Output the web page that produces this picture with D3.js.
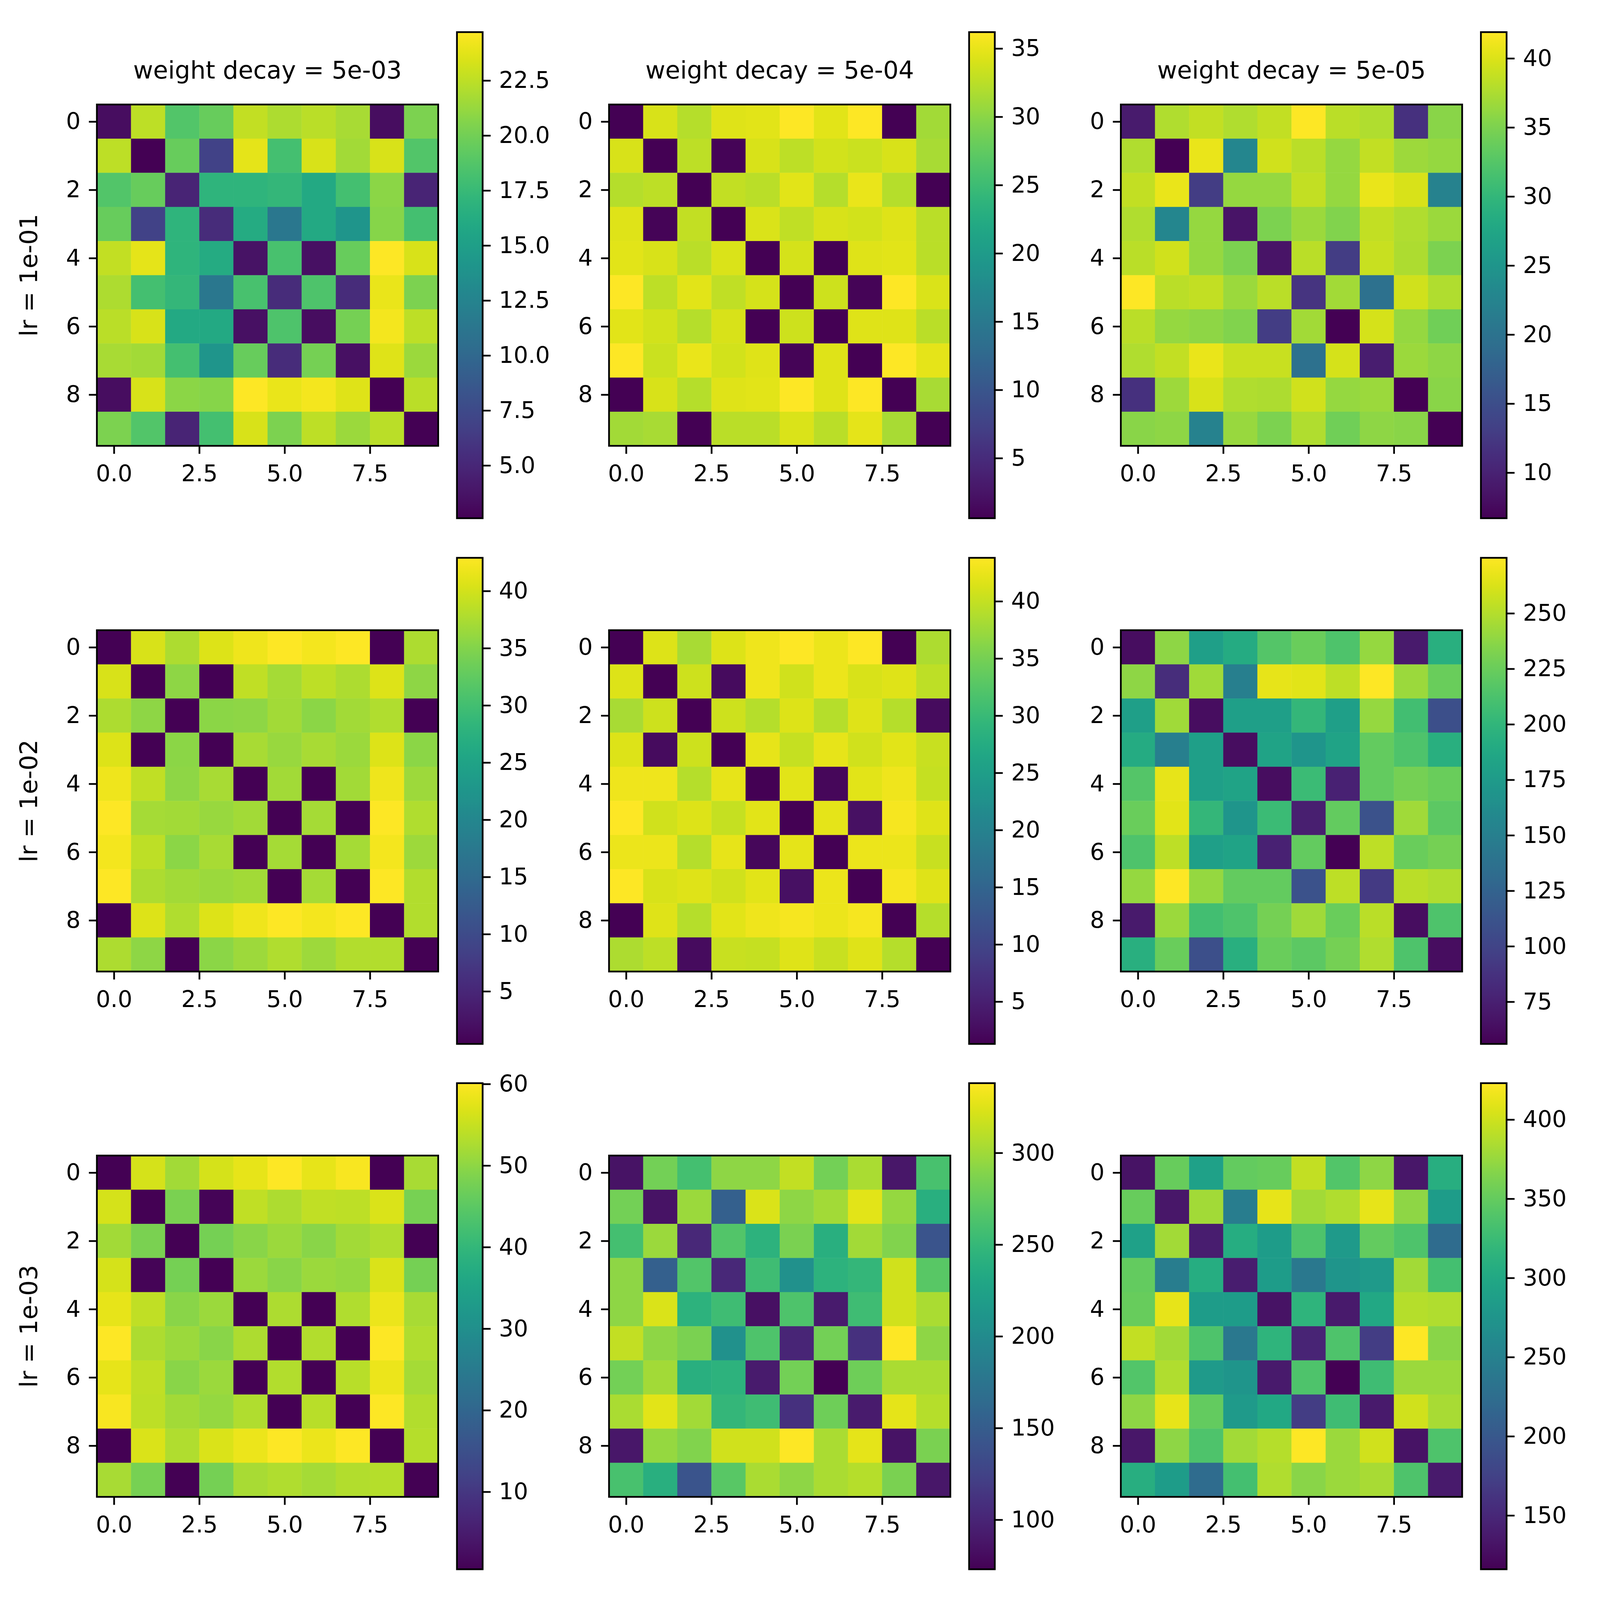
<!DOCTYPE html>
<html lang="en">
<head>
<meta charset="UTF-8">
<title>lr / weight decay distance matrices</title>
<script src="https://d3js.org/d3.v7.min.js"></script>
<style>
  html, body { margin: 0; padding: 0; background: #fff; overflow: hidden; }
  svg#grid { display: block; width: 100vw; height: 100vh; }
  text { font-family: "DejaVu Sans", sans-serif; fill: #000; }
  .axis line { stroke: #000; stroke-width: 5; }
  .axis text { font-size: 66px; font-family: "DejaVu Sans", sans-serif; fill: #000; }
  .axis .domain { display: none; }
</style>
</head>
<body>
<svg id="grid" viewBox="0 0 4608 4608" preserveAspectRatio="xMidYMid meet"></svg>
<script>
const lrLabels = ["lr = 1e-01", "lr = 1e-02", "lr = 1e-03"];
const wdLabels = ["weight decay = 5e-03", "weight decay = 5e-04", "weight decay = 5e-05"];
const xTicks = [0, 2.5, 5, 7.5];
const yTicks = [0, 2, 4, 6, 8];

// lr = 1e-01
const m11 = [
  [3.3, 22.5, 18.7, 19.6, 22.7, 22.0, 22.4, 21.8, 3.3, 20.3],
  [22.5, 2.6, 19.6, 7.0, 23.8, 18.1, 23.4, 21.6, 23.4, 18.7],
  [18.7, 19.6, 4.8, 17.0, 17.0, 17.2, 15.9, 18.1, 20.9, 4.8],
  [19.6, 7.0, 17.0, 5.3, 16.1, 11.4, 15.9, 14.1, 20.7, 18.1],
  [22.7, 23.8, 17.0, 16.1, 3.7, 18.3, 3.5, 19.6, 24.7, 23.4],
  [22.0, 18.1, 17.2, 11.4, 18.3, 5.3, 18.5, 5.3, 24.0, 20.3],
  [22.4, 23.4, 15.9, 15.9, 3.5, 18.5, 3.3, 20.1, 24.3, 22.5],
  [21.8, 21.6, 18.1, 14.1, 19.6, 5.3, 20.1, 3.5, 23.6, 21.4],
  [3.3, 23.4, 20.9, 20.7, 24.7, 24.0, 24.3, 23.6, 2.6, 22.4],
  [20.3, 18.7, 4.8, 18.1, 23.4, 20.3, 22.5, 21.4, 22.4, 2.6]
];
const m12 = [
  [0.6, 34.1, 32.3, 34.4, 34.6, 36.2, 34.6, 36.2, 0.6, 31.2],
  [34.1, 0.6, 32.6, 1.0, 34.1, 32.6, 33.7, 33.4, 34.1, 31.6],
  [32.3, 32.6, 0.6, 33.0, 32.5, 34.6, 32.3, 35.0, 32.3, 0.6],
  [34.4, 1.0, 33.0, 0.6, 34.2, 32.8, 34.1, 33.7, 34.4, 32.5],
  [34.6, 34.1, 32.5, 34.2, 0.6, 33.9, 0.6, 34.4, 34.6, 32.5],
  [36.2, 32.6, 34.6, 32.8, 33.9, 0.6, 33.5, 1.0, 36.2, 34.2],
  [34.6, 33.7, 32.3, 34.1, 0.6, 33.5, 0.6, 34.4, 34.4, 32.5],
  [36.2, 33.4, 35.0, 33.7, 34.4, 1.0, 34.4, 0.6, 36.2, 34.8],
  [0.6, 34.1, 32.3, 34.4, 34.6, 36.2, 34.4, 36.2, 0.6, 31.6],
  [31.2, 31.6, 0.6, 32.5, 32.5, 34.2, 32.5, 34.8, 31.6, 0.6]
];
const m13 = [
  [9.2, 37.7, 38.7, 37.7, 38.6, 41.9, 38.2, 37.7, 11.6, 35.6],
  [37.7, 6.7, 40.7, 22.9, 39.3, 38.2, 36.3, 38.6, 36.8, 36.3],
  [38.7, 40.7, 13.0, 36.3, 36.3, 38.7, 36.3, 40.7, 39.8, 22.2],
  [37.7, 22.9, 36.3, 8.5, 34.9, 36.6, 35.2, 38.7, 37.7, 36.6],
  [38.2, 39.3, 36.3, 34.9, 8.5, 38.2, 13.0, 38.9, 37.5, 34.9],
  [41.9, 38.2, 38.7, 36.6, 38.2, 12.0, 37.0, 19.7, 39.3, 37.7],
  [38.2, 36.3, 35.9, 35.2, 13.0, 37.0, 6.7, 39.6, 36.3, 34.2],
  [37.7, 38.6, 40.7, 38.9, 38.9, 19.7, 39.6, 9.5, 36.6, 35.9],
  [11.6, 36.8, 39.8, 37.7, 37.5, 39.3, 36.3, 36.6, 6.7, 35.6],
  [35.6, 35.9, 22.2, 36.4, 34.9, 37.7, 34.2, 35.9, 35.6, 6.7]
];

// lr = 1e-02
const m21 = [
  [0.4, 40.4, 37.6, 40.6, 41.8, 42.9, 42.1, 42.9, 0.4, 37.6],
  [40.4, 0.4, 35.7, 0.4, 38.9, 37.2, 38.7, 37.6, 40.6, 35.7],
  [37.6, 35.7, 0.4, 35.5, 35.7, 37.0, 35.5, 37.0, 37.8, 0.4],
  [40.6, 0.4, 35.5, 0.4, 37.4, 36.3, 37.4, 36.5, 40.6, 35.5],
  [41.8, 38.9, 35.7, 37.4, 0.4, 37.0, 0.4, 37.0, 41.8, 36.7],
  [42.9, 37.2, 37.0, 36.3, 37.0, 0.4, 37.2, 0.4, 42.9, 37.8],
  [42.1, 38.7, 35.5, 37.4, 0.4, 37.2, 0.4, 37.2, 42.1, 36.7],
  [42.9, 37.6, 37.0, 36.5, 37.0, 0.4, 37.2, 0.4, 42.9, 38.0],
  [0.4, 40.6, 37.8, 40.6, 41.8, 42.9, 42.1, 42.9, 0.4, 38.0],
  [37.6, 35.7, 0.4, 35.5, 36.7, 37.8, 36.7, 38.0, 38.0, 0.4]
];
const m22 = [
  [1.3, 41.5, 38.3, 41.5, 42.7, 43.8, 42.5, 43.8, 1.3, 38.5],
  [41.5, 1.3, 40.6, 2.6, 42.7, 40.8, 42.5, 41.3, 41.7, 39.6],
  [38.3, 40.6, 1.3, 40.6, 39.1, 41.5, 39.1, 41.7, 39.1, 2.6],
  [41.5, 2.6, 40.6, 1.3, 42.3, 40.0, 42.3, 40.8, 41.9, 40.2],
  [42.7, 42.7, 39.1, 42.3, 1.3, 41.9, 2.1, 41.9, 42.7, 40.0],
  [43.8, 40.8, 41.5, 40.0, 41.9, 1.3, 42.1, 3.0, 43.2, 41.7],
  [42.5, 42.5, 39.1, 42.3, 2.1, 42.1, 1.3, 42.5, 42.5, 40.2],
  [43.8, 41.3, 41.7, 40.8, 41.9, 3.0, 42.5, 1.3, 43.2, 41.7],
  [1.3, 41.7, 39.1, 41.9, 42.7, 43.2, 42.5, 43.2, 1.3, 39.1],
  [38.5, 39.6, 2.6, 40.2, 40.0, 41.7, 40.2, 41.7, 39.1, 1.3]
];
const m23 = [
  [63, 238, 179, 190, 216, 225, 214, 240, 71, 194],
  [238, 84, 244, 150, 267, 265, 253, 275, 242, 225],
  [179, 244, 63, 179, 179, 201, 179, 240, 209, 109],
  [190, 150, 179, 63, 183, 170, 183, 222, 214, 194],
  [216, 267, 179, 183, 63, 205, 76, 222, 229, 225],
  [225, 265, 201, 170, 205, 74, 222, 111, 244, 220],
  [214, 253, 179, 183, 76, 222, 56, 253, 225, 229],
  [240, 275, 240, 222, 222, 111, 253, 93, 252, 249],
  [71, 242, 209, 214, 229, 244, 225, 252, 63, 214],
  [194, 225, 109, 194, 225, 220, 229, 249, 214, 63]
];

// lr = 1e-03
const m31 = [
  [0.5, 56.2, 51.8, 56.2, 58.0, 60.1, 58.0, 59.5, 0.5, 52.4],
  [56.2, 0.5, 48.2, 1.1, 54.4, 52.7, 54.4, 54.1, 56.8, 47.9],
  [51.8, 48.2, 0.5, 47.6, 49.4, 51.2, 49.4, 51.8, 53.0, 0.5],
  [56.2, 1.1, 47.6, 0.5, 51.2, 49.4, 51.2, 50.6, 56.8, 47.6],
  [58.0, 54.4, 49.4, 51.2, 0.5, 52.7, 0.5, 53.0, 58.3, 52.4],
  [60.1, 52.7, 51.2, 49.4, 52.7, 0.5, 53.2, 0.5, 60.1, 53.0],
  [58.0, 54.4, 49.4, 51.2, 0.5, 53.2, 0.5, 53.8, 58.3, 52.1],
  [59.5, 54.1, 51.8, 50.6, 53.0, 0.5, 53.8, 0.5, 60.1, 53.2],
  [0.5, 56.8, 53.0, 56.8, 58.3, 60.1, 58.3, 60.1, 0.5, 53.5],
  [52.4, 47.9, 0.5, 47.6, 52.4, 53.0, 52.1, 53.2, 53.5, 0.5]
];
const m32 = [
  [86, 282, 259, 293, 293, 314, 282, 304, 89, 261],
  [282, 86, 298, 153, 323, 293, 301, 326, 296, 240],
  [259, 298, 102, 266, 243, 285, 240, 301, 288, 142],
  [293, 153, 266, 102, 256, 206, 243, 248, 319, 269],
  [293, 323, 243, 256, 84, 264, 92, 256, 319, 304],
  [314, 293, 285, 206, 264, 100, 282, 110, 338, 293],
  [282, 301, 240, 243, 92, 282, 73, 280, 304, 304],
  [304, 326, 301, 248, 256, 110, 280, 92, 327, 309],
  [89, 296, 288, 319, 319, 338, 304, 327, 86, 285],
  [261, 240, 142, 269, 304, 293, 304, 309, 285, 89]
];
const m33 = [
  [131, 352, 291, 349, 352, 395, 340, 371, 134, 309],
  [352, 134, 380, 245, 412, 380, 386, 412, 371, 285],
  [291, 380, 141, 306, 285, 337, 282, 349, 337, 223],
  [349, 245, 306, 141, 285, 239, 276, 282, 380, 331],
  [352, 412, 285, 285, 131, 316, 137, 300, 389, 386],
  [395, 380, 337, 239, 316, 147, 337, 171, 423, 368],
  [340, 386, 282, 276, 137, 337, 116, 328, 377, 377],
  [371, 412, 349, 282, 300, 171, 328, 137, 401, 383],
  [134, 371, 337, 380, 389, 423, 377, 401, 131, 337],
  [309, 285, 223, 331, 386, 368, 377, 383, 337, 137]
];

const matrices = [[m11, m12, m13], [m21, m22, m23], [m31, m32, m33]];

// colorbar tick labels per panel
const cbTicks = [
  [[5, 7.5, 10, 12.5, 15, 17.5, 20, 22.5], [5, 10, 15, 20, 25, 30, 35], [10, 15, 20, 25, 30, 35, 40]],
  [[5, 10, 15, 20, 25, 30, 35, 40], [5, 10, 15, 20, 25, 30, 35, 40], [75, 100, 125, 150, 175, 200, 225, 250]],
  [[10, 20, 30, 40, 50, 60], [100, 150, 200, 250, 300], [150, 200, 250, 300, 350, 400]]
];
const cbFormats = [[".1f", "d", "d"], ["d", "d", "d"], ["d", "d", "d"]];

const svg = d3.select("svg#grid");
const colLeft = [279, 1754, 3228];
const rowTop = [301, 1815, 3328];
const size = 983;
const cbOffset = 1037, cbWidth = 74, cbHeight = 1400;

svg.append("rect").attr("width", 4608).attr("height", 4608).attr("fill", "#fff");

// viridis gradient for the colorbars
const grad = svg.append("defs").append("linearGradient")
  .attr("id", "viridis")
  .attr("x1", 0).attr("y1", 1).attr("x2", 0).attr("y2", 0);
d3.range(0, 1.0001, 0.02).forEach(t => {
  grad.append("stop").attr("offset", t).attr("stop-color", d3.interpolateViridis(t));
});

matrices.forEach((row, r) => {
  row.forEach((m, c) => {
    const left = colLeft[c], top = rowTop[r];
    const xScale = d3.scaleLinear().domain([-0.5, 9.5]).range([left, left + size]);
    const yScale = d3.scaleLinear().domain([-0.5, 9.5]).range([top, top + size]);
    const extent = d3.extent(m.flat());
    const color = d3.scaleSequential(d3.interpolateViridis).domain(extent);

    const cells = [];
    m.forEach((vals, i) => vals.forEach((v, j) => cells.push({ i, j, v })));

    svg.append("g").selectAll("rect")
      .data(cells)
      .join("rect")
      .attr("x", d => xScale(d.j - 0.5))
      .attr("y", d => yScale(d.i - 0.5))
      .attr("width", d => xScale(d.j + 0.5) - xScale(d.j - 0.5) + 0.5)
      .attr("height", d => yScale(d.i + 0.5) - yScale(d.i - 0.5) + 0.5)
      .attr("fill", d => color(d.v));

    svg.append("rect")
      .attr("x", left).attr("y", top)
      .attr("width", size).attr("height", size)
      .attr("fill", "none").attr("stroke", "#000").attr("stroke-width", 5);

    svg.append("g")
      .attr("class", "axis")
      .attr("transform", `translate(0,${top + size})`)
      .call(d3.axisBottom(xScale).tickValues(xTicks).tickFormat(d3.format(".1f"))
        .tickSize(23).tickPadding(32).tickSizeOuter(0));

    svg.append("g")
      .attr("class", "axis")
      .attr("transform", `translate(${left},0)`)
      .call(d3.axisLeft(yScale).tickValues(yTicks).tickFormat(d3.format("d"))
        .tickSize(23).tickPadding(24).tickSizeOuter(0));

    // colorbar
    const cbX = left + cbOffset;
    const cbTop = top + size / 2 - cbHeight / 2;
    const cbScale = d3.scaleLinear().domain(extent).range([cbTop + cbHeight, cbTop]);
    svg.append("rect")
      .attr("x", cbX).attr("y", cbTop)
      .attr("width", cbWidth).attr("height", cbHeight)
      .attr("fill", "url(#viridis)")
      .attr("stroke", "#000").attr("stroke-width", 5);
    svg.append("g")
      .attr("class", "axis")
      .attr("transform", `translate(${cbX + cbWidth},0)`)
      .call(d3.axisRight(cbScale).tickValues(cbTicks[r][c]).tickFormat(d3.format(cbFormats[r][c]))
        .tickSize(23).tickPadding(24).tickSizeOuter(0));

    if (r === 0) {
      svg.append("text")
        .attr("x", left + size / 2)
        .attr("y", top - 75)
        .attr("text-anchor", "middle")
        .style("font-size", "70px")
        .text(wdLabels[c]);
    }
    if (c === 0) {
      svg.append("text")
        .attr("transform", `translate(107,${top + size / 2}) rotate(-90)`)
        .attr("text-anchor", "middle")
        .style("font-size", "70px")
        .text(lrLabels[r]);
    }
  });
});
</script>
</body>
</html>
